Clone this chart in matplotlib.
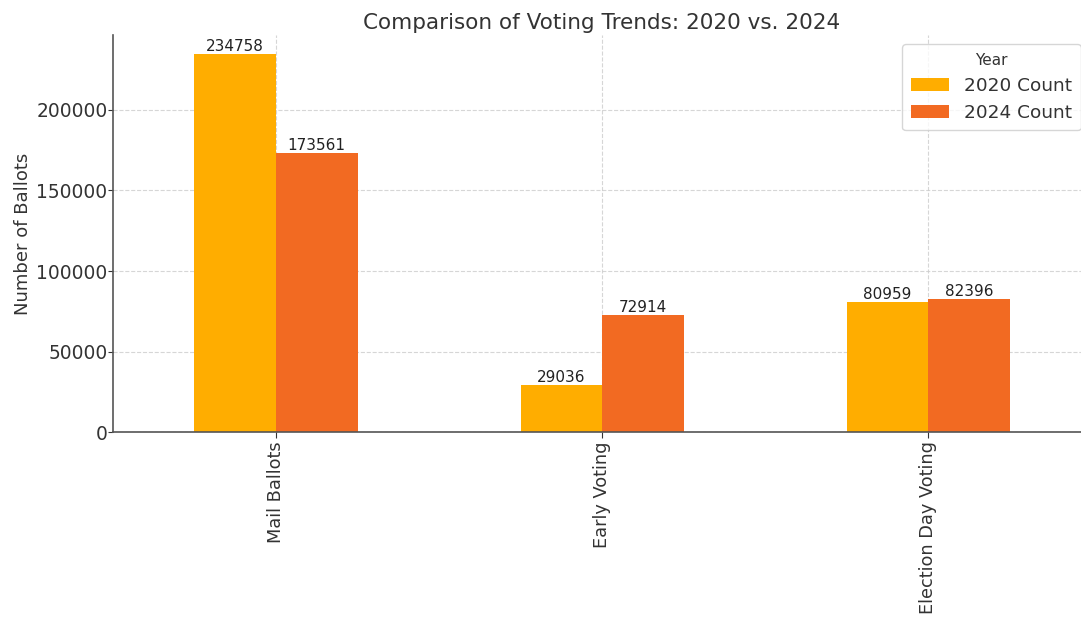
import numpy as np
import matplotlib
matplotlib.use("Agg")
import matplotlib.pyplot as plt

#
#   data
#
categories = ["Mail Ballots", "Early Voting", "Election Day Voting"]
counts_2020 = [234758, 29036, 80959]
counts_2024 = [173561, 72914, 82396]
series_names = ["2020 Count", "2024 Count"]
colors = ["#FFAD00", "#F26A22"]

#
#   plotting
#
plt.rcParams["font.family"] = "DejaVu Sans"
plt.rcParams["text.color"] = "#333333"
plt.rcParams["axes.labelcolor"] = "#333333"
plt.rcParams["xtick.color"] = "#333333"
plt.rcParams["ytick.color"] = "#333333"

fig = plt.figure(figsize=(10.81, 6.2), dpi=100)
ax = fig.add_axes([0.1045, 0.303, 0.905, 0.6405])

x = np.arange(len(categories))
w = 0.25
bars1 = ax.bar(x - w / 2, counts_2020, w, color=colors[0], label=series_names[0])
bars2 = ax.bar(x + w / 2, counts_2024, w, color=colors[1], label=series_names[1])

for bars in (bars1, bars2):
    ax.bar_label(bars, fontsize=11, padding=0, color="#222222")

ax.set_xlim(-0.5, 2.5)
ax.set_ylim(0, max(counts_2020 + counts_2024) * 1.05)
ax.set_xticks(x)
ax.set_xticklabels(categories, rotation=90, fontsize=12.8)
ax.tick_params(axis="x", pad=2.5, length=4)
ax.tick_params(axis="y", labelsize=13.4, pad=0.5, length=3.5)
ax.set_ylabel("Number of Ballots", fontsize=13, labelpad=3)
ax.set_title("Comparison of Voting Trends: 2020 vs. 2024", fontsize=15.5, pad=4)

ax.set_axisbelow(True)
ax.grid(True, linestyle="--", color="#cccccc", linewidth=0.8, alpha=0.8)
for s in ["top", "right"]:
    ax.spines[s].set_visible(False)
for s in ["left", "bottom"]:
    ax.spines[s].set_color("#555555")
    ax.spines[s].set_linewidth(1.2)

leg = ax.legend(title="Year", loc="upper right", fontsize=13.3, title_fontsize=11,
                bbox_to_anchor=(0.9985, 1.0), borderpad=0.45, handlelength=2.1,
                labelspacing=0.5)
leg.get_frame().set_edgecolor("#cccccc")

fig.savefig("out.png", dpi=100)
